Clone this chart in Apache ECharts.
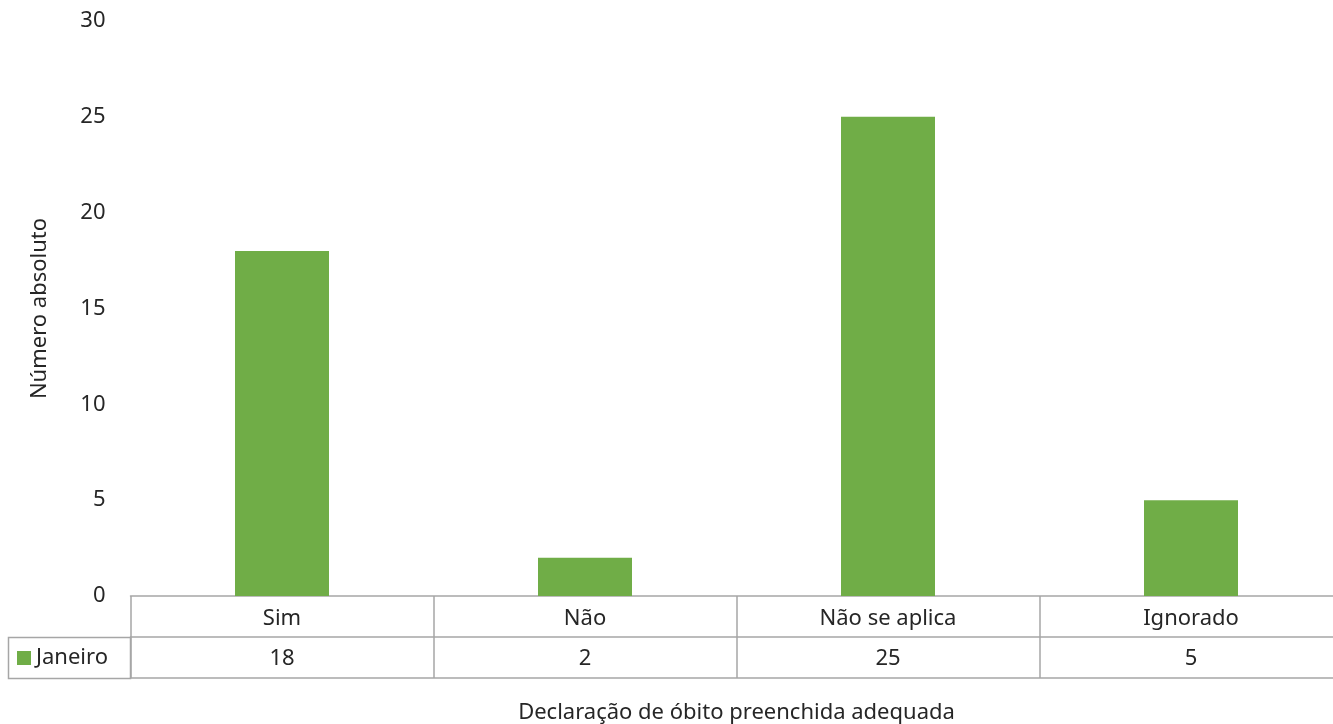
<!DOCTYPE html>
<html><head><meta charset="utf-8">
<script src="https://cdn.jsdelivr.net/npm/echarts@6/dist/echarts.min.js"></script>
<style>html,body{margin:0;padding:0;background:#fff}#c{width:1333px;height:724px}</style>
</head><body><div id="c"></div>
<script>
const categories = ['Sim', 'Não', 'Não se aplica', 'Ignorado'];
const janeiro = [18, 2, 25, 5];
const seriesName = 'Janeiro';
const yTicks = { min: 0, max: 30, interval: 5 };
const xTitle = 'Declaração de óbito preenchida adequada';
const yTitle = 'Número absoluto';

const FONT = 'Noto Sans';
const FS = 22;
const TXT = '#262626';
const BORDER = '#A6A6A6';
const GREEN = '#70AD47';

const chart = echarts.init(document.getElementById('c'));
chart.setOption({
  animation: false,
  textStyle: { fontFamily: FONT },
  grid: { left: 130.5, top: 21, width: 1212, height: 575, outerBoundsMode: 'none', containLabel: false },
  legend: {
    data: [seriesName], left: 12, top: 642, itemWidth: 14, itemHeight: 14, itemGap: 4,
    icon: 'rect', textStyle: { fontFamily: FONT, fontSize: FS, color: TXT }
  },
  graphic: [
    { type: 'rect', shape: { x: 8.5, y: 637.5, width: 122, height: 41 }, style: { fill: 'none', stroke: BORDER, lineWidth: 1.5 }, z: 10 }
  ],
  xAxis: [
    { type: 'category', data: categories, position: 'bottom',
      axisLine: { show: true, lineStyle: { color: BORDER, width: 1.5 } },
      axisTick: { show: true, alignWithLabel: false, length: 82, inside: false, lineStyle: { color: BORDER, width: 1.5 } },
      axisLabel: { fontFamily: FONT, fontSize: FS, color: TXT, margin: 12 } },
    { type: 'category', data: janeiro.map(String), position: 'bottom', offset: 41,
      axisLine: { show: true, lineStyle: { color: BORDER, width: 1.5 } },
      axisTick: { show: false },
      axisLabel: { fontFamily: FONT, fontSize: FS, color: TXT, margin: 11 } },
    { type: 'category', data: categories, position: 'bottom', offset: 82,
      axisLine: { show: true, lineStyle: { color: BORDER, width: 1.5 } },
      axisTick: { show: false }, axisLabel: { show: false },
      name: xTitle, nameLocation: 'middle', nameGap: 24,
      nameTextStyle: { fontFamily: FONT, fontSize: FS, color: TXT } }
  ],
  yAxis: {
    type: 'value', min: yTicks.min, max: yTicks.max, interval: yTicks.interval,
    splitLine: { show: false }, axisLine: { show: false }, axisTick: { show: false },
    axisLabel: { fontFamily: FONT, fontSize: FS, color: TXT, margin: 25 },
    name: yTitle, nameLocation: 'middle', nameGap: 80, nameRotate: 90,
    nameTextStyle: { fontFamily: FONT, fontSize: FS, color: TXT }
  },
  series: [{
    name: seriesName, type: 'bar', data: janeiro, xAxisIndex: 0,
    barWidth: 94, itemStyle: { color: GREEN }
  }]
});
</script></body></html>
